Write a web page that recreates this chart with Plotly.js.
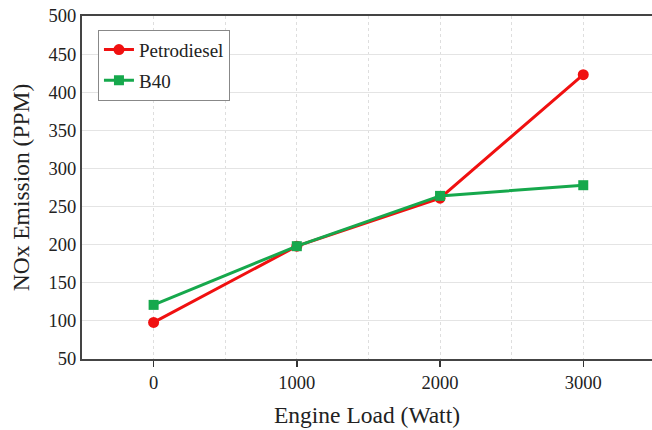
<!DOCTYPE html>
<html>
<head>
<meta charset="utf-8">
<script src="https://cdn.plot.ly/plotly-3.0.1.min.js"></script>
<style>html,body{margin:0;padding:0;background:#fff;}#chart{width:652px;height:430px;}</style>
</head>
<body>
<div id="chart"></div>
<script>
const loads = [0, 1000, 2000, 3000];
const petrodiesel = [98, 198, 261, 423];
const b40 = [121, 198, 264, 278];
const xTickVals = [0, 1000, 2000, 3000];
const xTickText = ['0', '1000', '2000', '3000'];

const serif = '"Liberation Serif", serif';

const traces = [
  {
    x: loads, y: petrodiesel, name: 'Petrodiesel', type: 'scatter', mode: 'lines+markers',
    line: {color: '#f01010', width: 3}, marker: {symbol: 'circle', size: 11, color: '#f01010'},
    legendgroup: 'a'
  },
  {
    x: loads, y: b40, name: 'B40', type: 'scatter', mode: 'lines+markers',
    line: {color: '#16a84c', width: 3}, marker: {symbol: 'square', size: 10, color: '#16a84c'},
    legendgroup: 'b'
  }
];

const layout = {
  width: 652, height: 430,
  margin: {l: 82, r: 0, t: 16, b: 71},
  paper_bgcolor: '#fff', plot_bgcolor: '#fff',
  font: {family: serif, color: '#222', size: 18},
  showlegend: true,
  legend: {
    x: 0.028, y: 0.96, xanchor: 'left', yanchor: 'top',
    bordercolor: '#888', borderwidth: 1, bgcolor: '#fff',
    font: {family: serif, size: 19, color: '#222'},
    traceorder: 'grouped', tracegroupgap: 3
  },
  xaxis: {
    range: [-500, 3480],
    tickvals: xTickVals, ticktext: xTickText,
    ticks: 'outside', ticklen: 6, tickwidth: 1.5, tickcolor: '#333',
    showline: true, linecolor: '#444', linewidth: 2, mirror: true,
    showgrid: true, gridcolor: '#dedede', gridwidth: 1, griddash: 'dot',
    minor: {dtick: 500, tick0: 0, showgrid: true, gridcolor: '#dedede', griddash: 'dot', ticks: ''},
    zeroline: false,
    tickfont: {family: serif, size: 18.5, color: '#222'},
    title: {text: 'Engine Load (Watt)', font: {family: serif, size: 23.5, color: '#222'}, standoff: 14}
  },
  yaxis: {
    range: [50, 500], dtick: 50, tick0: 0,
    ticks: '', showline: true, linecolor: '#444', linewidth: 2, mirror: false,
    showgrid: true, gridcolor: '#e4e4e4', gridwidth: 1,
    zeroline: false,
    tickfont: {family: serif, size: 18.5, color: '#222'},
    title: {text: 'NOx Emission (PPM)', font: {family: serif, size: 23.5, color: '#222'}, standoff: 12}
  }
};

Plotly.newPlot('chart', traces, layout, {displayModeBar: false, staticPlot: true});
</script>
</body>
</html>
